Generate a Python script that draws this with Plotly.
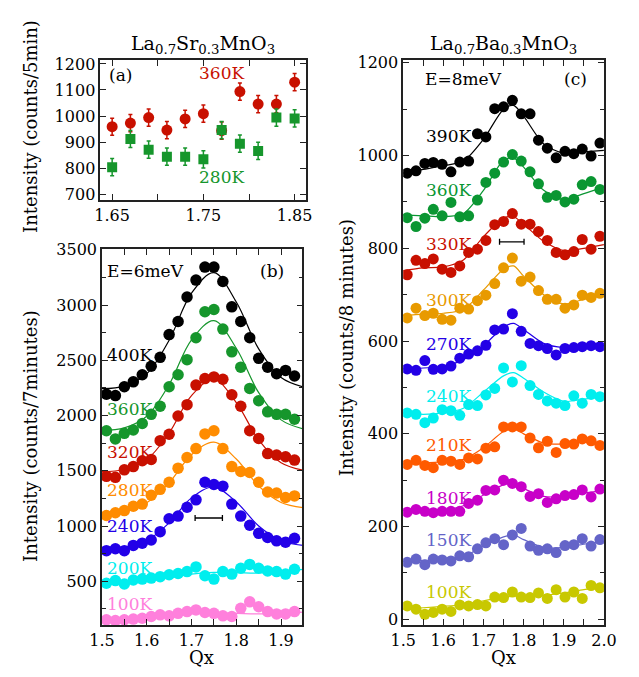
import plotly.graph_objects as go

FONT = "DejaVu Serif"

# ---------------- Panel (a): La0.7Sr0.3MnO3 ----------------
qa = [1.65, 1.67, 1.69, 1.71, 1.73, 1.75, 1.77, 1.79, 1.81, 1.83, 1.85]
a_360K = [959, 973, 994, 946, 989, 1009, 944, 1094, 1046, 1046, 1130]
a_280K = [804, 912, 871, 844, 844, 834, 946, 894, 866, 994, 991]
a_err = [33, 33, 33, 33, 33, 33, 33, 33, 33, 33, 33]

# ---------------- Panel (b): E = 6 meV ----------------
qb = [1.51, 1.53, 1.55, 1.57, 1.59, 1.61, 1.63, 1.65, 1.67, 1.69, 1.71,
      1.73, 1.75, 1.77, 1.79, 1.81, 1.83, 1.85, 1.87, 1.89, 1.91, 1.93]
b_data = {
    "400K": [2193, 2181, 2261, 2305, 2370, 2447, 2527, 2733, 2851, 3073, 3226,
             3344, 3344, 3214, 2984, 2851, 2704, 2518, 2438, 2379, 2409, 2358],
    "360K": [1863, 1789, 1839, 1869, 1928, 2011, 2084, 2261, 2370, 2506, 2704,
             2940, 2960, 2783, 2577, 2438, 2246, 2134, 2034, 2011, 2011, 1967],
    "320K": [1450, 1441, 1509, 1538, 1591, 1603, 1773, 1831, 1996, 2099, 2276,
             2335, 2350, 2329, 2188, 2084, 1863, 1792, 1656, 1642, 1627, 1597],
    "280K": [1096, 1120, 1140, 1179, 1199, 1279, 1332, 1397, 1524, 1621, 1701,
             1834, 1863, 1701, 1538, 1494, 1485, 1397, 1308, 1299, 1258, 1273],
    "240K": [777, 795, 777, 825, 845, 874, 949, 1066, 1090, 1170, 1237,
             1397, 1376, 1361, 1199, 1090, 1007, 934, 896, 866, 854, 889],
    "200K": [482, 506, 476, 512, 520, 529, 542, 559, 571, 588, 630,
             550, 520, 588, 565, 618, 653, 618, 594, 588, 565, 609],
    "100K": [152, 144, 152, 158, 166, 181, 196, 187, 210, 226, 241,
             217, 210, 187, 181, 255, 314, 270, 226, 205, 205, 226],
}
qb_fit = [1.50, 1.55, 1.60, 1.65, 1.70, 1.75, 1.80, 1.85, 1.90, 1.95]
b_fit = {
    "400K": [2243, 2267, 2379, 2682, 3108, 3293, 3028, 2604, 2344, 2258],
    "360K": [1865, 1888, 1994, 2281, 2685, 2860, 2609, 2207, 1961, 1879],
    "320K": [1493, 1512, 1601, 1842, 2181, 2328, 2117, 1780, 1573, 1505],
    "280K": [1122, 1140, 1210, 1392, 1646, 1759, 1607, 1362, 1213, 1166],
    "240K": [792, 807, 868, 1029, 1255, 1353, 1218, 1000, 867, 825],
    "200K": [490, 503, 516, 536, 565, 580, 578, 575, 588, 608],
    "100K": [150, 158, 168, 182, 205, 215, 210, 205, 210, 222],
}
b_colors = {
    "400K": "#000000", "360K": "#16962c", "320K": "#c81000", "280K": "#ff8c00",
    "240K": "#2200e8", "200K": "#00eeee", "100K": "#ff80dc",
}
b_label_y = {"400K": 0.718, "360K": 0.574, "320K": 0.460, "280K": 0.360,
             "240K": 0.264, "200K": 0.151, "100K": 0.056}
b_res = {"q": 1.7385, "half": 0.0305, "y": 1073}

# ---------------- Panel (c): E = 8 meV ----------------
qc = [1.510, 1.532, 1.554, 1.575, 1.597, 1.619, 1.641, 1.663, 1.685, 1.706, 1.728, 1.750,
      1.772, 1.794, 1.816, 1.837, 1.859, 1.881, 1.903, 1.925, 1.946, 1.968, 1.990]
c_data = {
    "390K": [962, 967, 983, 985, 981, 965, 986, 988, 1047, 1040, 1101, 1105,
             1119, 1090, 1090, 1033, 1016, 995, 1009, 1004, 1014, 999, 1027],
    "360K": [866, 847, 865, 884, 870, 899, 868, 870, 904, 942, 962, 986,
             1002, 988, 965, 939, 910, 914, 900, 906, 937, 944, 927],
    "330K": [743, 774, 767, 777, 755, 748, 762, 791, 798, 817, 851, 858,
             875, 852, 852, 836, 817, 791, 786, 793, 819, 798, 826],
    "300K": [650, 671, 655, 660, 647, 645, 671, 669, 687, 699, 724, 758,
             779, 729, 738, 709, 690, 690, 671, 678, 699, 694, 703],
    "270K": [540, 537, 558, 539, 540, 546, 563, 572, 579, 591, 624, 626,
             659, 621, 595, 590, 584, 570, 584, 586, 588, 590, 588],
    "240K": [445, 442, 424, 434, 452, 450, 440, 463, 461, 484, 498, 542,
             512, 547, 504, 485, 471, 466, 461, 482, 466, 485, 480],
    "210K": [334, 343, 332, 327, 343, 341, 334, 348, 346, 369, 372, 415,
             415, 415, 391, 370, 384, 360, 379, 378, 389, 385, 375],
    "180K": [231, 237, 233, 230, 233, 233, 233, 250, 257, 278, 279, 300,
             293, 286, 265, 271, 252, 260, 267, 269, 279, 264, 281],
    "150K": [123, 130, 118, 130, 128, 126, 137, 135, 152, 165, 174, 161,
             182, 196, 158, 149, 152, 144, 159, 161, 174, 158, 172],
    "100K": [29, 22, 11, 15, 22, 17, 31, 29, 32, 29, 48, 47,
             59, 48, 47, 57, 45, 64, 48, 59, 45, 73, 68],
}
qc_fit = [1.50, 1.55, 1.60, 1.65, 1.70, 1.75, 1.775, 1.80, 1.85, 1.90, 1.95, 2.00]
c_fit = {
    "390K": [962, 970, 978, 988, 1035, 1100, 1108, 1085, 1025, 1005, 1008, 1011],
    "360K": [872, 870, 868, 875, 925, 990, 995, 975, 925, 905, 918, 932],
    "330K": [752, 758, 760, 775, 825, 865, 868, 852, 815, 795, 800, 808],
    "300K": [655, 658, 660, 668, 710, 755, 762, 740, 700, 680, 690, 700],
    "270K": [540, 542, 545, 560, 590, 630, 638, 625, 595, 586, 588, 590],
    "240K": [445, 442, 445, 455, 490, 525, 532, 520, 490, 470, 475, 480],
    "210K": [335, 337, 340, 345, 370, 405, 410, 400, 380, 378, 382, 380],
    "180K": [235, 235, 236, 245, 268, 290, 292, 282, 265, 265, 272, 278],
    "150K": [125, 127, 128, 135, 158, 178, 182, 172, 155, 155, 162, 168],
    "100K": [22, 25, 28, 32, 40, 48, 50, 50, 52, 57, 64, 70],
}
c_colors = {
    "390K": "#000000", "360K": "#0a9632", "330K": "#c81000", "300K": "#e89a00",
    "270K": "#2300e6", "240K": "#00eeee", "210K": "#ff5a00", "180K": "#c800c8",
    "150K": "#6464c8", "100K": "#c8c800",
}
c_label_y = {"390K": 0.865, "360K": 0.769, "330K": 0.674, "300K": 0.576,
             "270K": 0.497, "240K": 0.406, "210K": 0.319, "180K": 0.225,
             "150K": 0.150, "100K": 0.059}
c_res = {"q": 1.7705, "half": 0.0305, "y": 814}

RED = "#c81000"
GREEN = "#16962c"

fig = go.Figure()

# panel (a)
fig.add_trace(go.Scatter(x=qa, y=a_360K, mode="markers", xaxis="x", yaxis="y",
                         marker=dict(symbol="circle", size=11, color=RED, line=dict(width=0)),
                         error_y=dict(type="data", array=a_err, color=RED, thickness=1.5, width=2)))
fig.add_trace(go.Scatter(x=qa, y=a_280K, mode="markers", xaxis="x", yaxis="y",
                         marker=dict(symbol="square", size=10, color=GREEN, line=dict(width=0)),
                         error_y=dict(type="data", array=a_err, color=GREEN, thickness=1.5, width=2)))

# panel (b)
for k in b_data:
    fig.add_trace(go.Scatter(x=qb_fit, y=b_fit[k], mode="lines", xaxis="x2", yaxis="y2",
                             line=dict(color=b_colors[k], width=1.2, shape="spline", smoothing=1.0)))
for k in b_data:
    fig.add_trace(go.Scatter(x=qb, y=b_data[k], mode="markers", xaxis="x2", yaxis="y2",
                             marker=dict(size=11.5, color=b_colors[k], line=dict(width=0))))
fig.add_trace(go.Scatter(x=[b_res["q"]], y=[b_res["y"]], mode="markers", xaxis="x2", yaxis="y2",
                         marker=dict(size=1, color="rgba(0,0,0,0)"),
                         error_x=dict(type="data", array=[b_res["half"]], color="black",
                                      thickness=1.3, width=3)))

# panel (c)
for k in c_data:
    fig.add_trace(go.Scatter(x=qc_fit, y=c_fit[k], mode="lines", xaxis="x3", yaxis="y3",
                             line=dict(color=c_colors[k], width=1.2, shape="spline", smoothing=0.8)))
for k in c_data:
    fig.add_trace(go.Scatter(x=qc, y=c_data[k], mode="markers", xaxis="x3", yaxis="y3",
                             marker=dict(size=11, color=c_colors[k], line=dict(width=0))))
fig.add_trace(go.Scatter(x=[c_res["q"]], y=[c_res["y"]], mode="markers", xaxis="x3", yaxis="y3",
                         marker=dict(size=1, color="rgba(0,0,0,0)"),
                         error_x=dict(type="data", array=[c_res["half"]], color="black",
                                      thickness=1.3, width=3)))

axis_common = dict(showline=True, linecolor="#222222", linewidth=1.5, mirror="allticks",
                   ticks="inside", ticklen=6, tickwidth=1, tickcolor="#222222",
                   showgrid=False, zeroline=False,
                   tickfont=dict(family=FONT, size=16, color="black"))

fig.update_layout(
    width=639, height=677, margin=dict(l=0, r=0, t=0, b=0),
    paper_bgcolor="white", plot_bgcolor="white", showlegend=False,
    font=dict(family=FONT, color="black"),
    xaxis=dict(domain=[0.1424, 0.4773], range=[1.637, 1.862], anchor="y",
               tick0=1.65, dtick=0.1, tickformat=".2f",
               minor=dict(ticks="inside", ticklen=6, dtick=0.05, tick0=1.65, tickcolor="#222222"),
               **axis_common),
    yaxis=dict(domain=[0.712, 0.9232], range=[677, 1215], anchor="x",
               tick0=700, dtick=100, **axis_common),
    xaxis2=dict(domain=[0.1451, 0.4721], range=[1.5, 1.9476], anchor="y2",
                tick0=1.5, dtick=0.1, tickformat=".1f",
                minor=dict(ticks="inside", ticklen=6, dtick=0.05, tick0=1.5, tickcolor="#222222"),
                **axis_common),
    yaxis2=dict(domain=[0.0724, 0.6381], range=[105, 3505], anchor="x2",
                tick0=0, dtick=500,
                minor=dict(ticks="inside", ticklen=4, dtick=250, tickcolor="#222222"),
                **axis_common),
    xaxis3=dict(domain=[0.6365, 0.964], range=[1.5, 2.0], anchor="y3",
                tick0=1.5, dtick=0.1, tickformat=".1f",
                minor=dict(ticks="inside", ticklen=6, dtick=0.05, tick0=1.5, tickcolor="#222222"),
                **axis_common),
    yaxis3=dict(domain=[0.0724, 0.9232], range=[-12, 1206], anchor="x3",
                tick0=0, dtick=200,
                minor=dict(ticks="inside", ticklen=4, dtick=100, tickcolor="#222222"),
                **axis_common),
)

ann = []
def A(text, x, y, xref, yref, size=17, color="black", xanchor="left", yanchor="middle", angle=0):
    ann.append(dict(text=text, x=x, y=y, xref=xref, yref=yref, showarrow=False,
                    font=dict(family=FONT, size=size, color=color),
                    xanchor=xanchor, yanchor=yanchor, textangle=angle))

# titles
A("La<sub>0.7</sub>Sr<sub>0.3</sub>MnO<sub>3</sub>", 0.31, 0.946, "paper", "paper", size=19, xanchor="center")
A("La<sub>0.7</sub>Ba<sub>0.3</sub>MnO<sub>3</sub>", 0.80, 0.946, "paper", "paper", size=19, xanchor="center")
A("Qx", 197 / 639, 1 - 661 / 677, "paper", "paper", size=18, xanchor="center")
A("Qx", 511 / 639, 1 - 661 / 677, "paper", "paper", size=18, xanchor="center")
A("Intensity (counts/5min)", 18 / 639, 1 - 120 / 677, "paper", "paper", size=18, xanchor="center", angle=-90)
A("Intensity (counts/7minutes)", 18 / 639, 1 - 435 / 677, "paper", "paper", size=18, xanchor="center", angle=-90)
A("Intensity (counts/8 minutes)", 347 / 639, 1 - 345 / 677, "paper", "paper", size=18, xanchor="center", angle=-90)

# panel (a) labels
A("(a)", 0.035, 0.895, "x domain", "y domain")
A("360K", 0.472, 0.909, "x domain", "y domain", color=RED)
A("280K", 0.472, 0.163, "x domain", "y domain", color=GREEN)

# panel (b) labels
A("E=6meV", 0.015, 0.943, "x2 domain", "y2 domain")
A("(b)", 0.848, 0.943, "x2 domain", "y2 domain", xanchor="center")
for k in b_data:
    A(k, 0.015, b_label_y[k], "x2 domain", "y2 domain", color=b_colors[k])

# panel (c) labels
A("E=8meV", 0.097, 0.966, "x3 domain", "y3 domain")
A("(c)", 0.86, 0.966, "x3 domain", "y3 domain", xanchor="center")
for k in c_data:
    A(k, 0.106, c_label_y[k], "x3 domain", "y3 domain", color=c_colors[k])

fig.update_layout(annotations=ann)
fig.write_html("out.html",
               post_script="document.body.style.margin='0';document.body.style.padding='0';")
